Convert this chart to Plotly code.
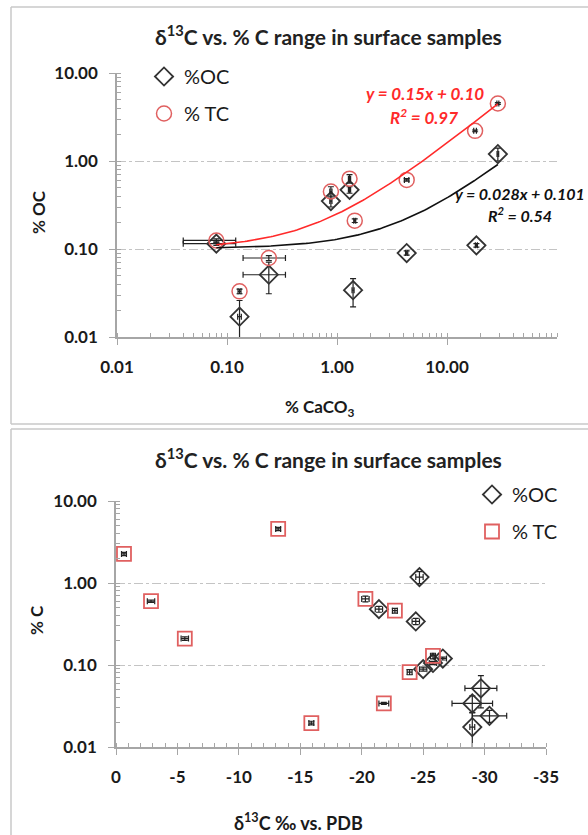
import numpy as np
import plotly.graph_objects as go

W, H = 588, 835

# ---------------- data: top panel (% CaCO3 vs % OC / % TC) ----------------
oc_x_top = [0.08, 0.13, 0.24, 0.88, 1.3, 1.4, 4.3, 18.5, 29]
oc_y_top = [0.115, 0.017, 0.051, 0.35, 0.47, 0.034, 0.090, 0.11, 1.2]
oc_xerr_top = [0.04, 0.005, 0.1, 0.02, 0.03, 0.03, 0.1, 0.4, 0.5]
oc_yerr_top = [0.005, 0.009, 0.02, 0.05, 0.04, 0.012, 0.005, 0.005, 0.2]

tc_x_top = [0.08, 0.13, 0.24, 0.88, 1.3, 1.45, 4.3, 18, 29]
tc_y_top = [0.125, 0.033, 0.079, 0.45, 0.63, 0.21, 0.61, 2.2, 4.5]
tc_xerr_top = [0.04, 0.004, 0.1, 0.02, 0.03, 0.03, 0.2, 0.5, 0.6]
tc_yerr_top = [0.005, 0.002, 0.005, 0.06, 0.07, 0.01, 0.02, 0.05, 0.1]

# trendline coefficients (as printed on the chart)
tc_slope, tc_icpt = 0.15, 0.10
oc_slope, oc_icpt = 0.028, 0.101
trend_xmin, trend_xmax = 0.08, 29

# ---------------- data: bottom panel (d13C vs % C) ----------------
oc_x_bot = [-24.7, -21.4, -24.4, -25.0, -25.8, -26.6, -29.7, -29.0, -30.4, -29.0]
oc_y_bot = [1.18, 0.48, 0.34, 0.089, 0.106, 0.12, 0.052, 0.034, 0.024, 0.0175]
oc_xerr_bot = [0.3, 0.3, 0.3, 0.3, 0.3, 0.3, 1.3, 1.65, 1.4, 0.2]
oc_yerr_bot = [0.2, 0.04, 0.03, 0.005, 0.005, 0.005, 0.022, 0.008, 0.004, 0.009]

tc_x_bot = [-0.65, -2.85, -5.6, -13.2, -20.3, -22.7, -25.8, -23.9, -21.8, -15.9]
tc_y_bot = [2.26, 0.60, 0.21, 4.56, 0.64, 0.46, 0.129, 0.082, 0.034, 0.0196]
tc_xerr_bot = [0.2, 0.3, 0.3, 0.2, 0.3, 0.2, 0.2, 0.2, 0.4, 0.2]
tc_yerr_bot = [0.1, 0.02, 0.01, 0.2, 0.05, 0.03, 0.01, 0.006, 0.001, 0.001]

log_ticks = [0.01, 0.1, 1, 10]
log_ticktext = ["0.01", "0.10", "1.00", "10.00"]
d13c_ticks = [0, -5, -10, -15, -20, -25, -30, -35]
d13c_ticktext = ["0", "-5", "-10", "-15", "-20", "-25", "-30", "-35"]

# ---------------- styling ----------------
FONT = "Lato"
RED = "#e06060"
DARK = "#333333"
AXC = "#a6a6a6"
GRID = "#c4c4c4"


def px(x):
    return x / W


def py(y):
    return 1 - y / H


fig = go.Figure()

err_style = dict(color="#222222", thickness=1.2, width=3)

# top panel traces
fig.add_trace(go.Scatter(
    x=oc_x_top, y=oc_y_top, mode="markers", name="%OC",
    marker=dict(symbol="diamond-open", size=14, color=DARK, line=dict(width=1.8, color=DARK)),
    error_x=dict(type="data", array=oc_xerr_top, visible=True, **err_style),
    error_y=dict(type="data", array=oc_yerr_top, visible=True, **err_style),
    xaxis="x", yaxis="y", legend="legend", legendgroup="a"))
fig.add_trace(go.Scatter(
    x=tc_x_top, y=tc_y_top, mode="markers", name="% TC",
    marker=dict(symbol="circle-open", size=15, color=RED, line=dict(width=1.5, color=RED)),
    error_x=dict(type="data", array=tc_xerr_top, visible=True, **err_style),
    error_y=dict(type="data", array=tc_yerr_top, visible=True, **err_style),
    xaxis="x", yaxis="y", legend="legend", legendgroup="b"))

tx = np.logspace(np.log10(trend_xmin), np.log10(trend_xmax), 120)
fig.add_trace(go.Scatter(x=tx, y=tc_slope * tx + tc_icpt, mode="lines",
                         line=dict(color="#ff2a2a", width=1.6), showlegend=False,
                         xaxis="x", yaxis="y"))
fig.add_trace(go.Scatter(x=tx, y=oc_slope * tx + oc_icpt, mode="lines",
                         line=dict(color="#111111", width=1.6), showlegend=False,
                         xaxis="x", yaxis="y"))

# bottom panel traces
fig.add_trace(go.Scatter(
    x=oc_x_bot, y=oc_y_bot, mode="markers", name="%OC",
    marker=dict(symbol="diamond-open", size=14, color=DARK, line=dict(width=1.8, color=DARK)),
    error_x=dict(type="data", array=oc_xerr_bot, visible=True, **err_style),
    error_y=dict(type="data", array=oc_yerr_bot, visible=True, **err_style),
    xaxis="x2", yaxis="y2", legend="legend2", legendgroup="c"))
fig.add_trace(go.Scatter(
    x=tc_x_bot, y=tc_y_bot, mode="markers", name="% TC",
    marker=dict(symbol="square-open", size=14, color=RED, line=dict(width=1.8, color=RED)),
    error_x=dict(type="data", array=tc_xerr_bot, visible=True, **err_style),
    error_y=dict(type="data", array=tc_yerr_bot, visible=True, **err_style),
    xaxis="x2", yaxis="y2", legend="legend2", legendgroup="d"))

tickfont = dict(family=FONT, size=17, color="#1a1a1a", weight="bold")
axis_common = dict(showline=True, linecolor=AXC, linewidth=1.5, ticks="outside",
                   ticklen=6, tickcolor=AXC, tickwidth=1.2, tickfont=tickfont,
                   zeroline=False, ticklabelstandoff=8, automargin=False)

fig.update_layout(
    width=W, height=H, autosize=False, margin=dict(l=0, r=0, t=0, b=0, pad=0),
    paper_bgcolor="white", plot_bgcolor="white",
    font=dict(family=FONT, color="#1a1a1a"),
    xaxis=dict(type="log", range=[-2, 2], domain=[px(117), px(557)], anchor="y",
               tickvals=log_ticks, ticktext=log_ticktext, showgrid=False,
               minor=dict(ticks="inside", ticklen=4, tickcolor=AXC, dtick="D1", showgrid=False),
               **axis_common),
    yaxis=dict(type="log", range=[-2, 1], domain=[py(337), py(73)], anchor="x",
               tickvals=log_ticks, ticktext=log_ticktext, showgrid=True,
               gridcolor=GRID, griddash="dashdot", gridwidth=1,
               minor=dict(ticks="inside", ticklen=4, tickcolor=AXC, dtick="D1", showgrid=False),
               **axis_common),
    xaxis2=dict(type="linear", range=[0, -35], domain=[px(116), px(546)], anchor="y2",
                tickvals=d13c_ticks, ticktext=d13c_ticktext, showgrid=False,
                minor=dict(ticks="inside", ticklen=4, tickcolor=AXC, dtick=1, showgrid=False),
                **axis_common),
    yaxis2=dict(type="log", range=[-2, 1], domain=[py(747), py(501)], anchor="x2",
                tickvals=log_ticks, ticktext=log_ticktext, showgrid=True,
                gridcolor=GRID, griddash="dashdot", gridwidth=1,
                minor=dict(ticks="inside", ticklen=4, tickcolor=AXC, dtick="D1", showgrid=False),
                **axis_common),
    legend=dict(x=px(144), y=py(57), xanchor="left", yanchor="top",
                bgcolor="white", font=dict(family=FONT, size=20, color="#1a1a1a"),
                tracegroupgap=8, itemwidth=30),
    legend2=dict(x=px(472), y=py(475), xanchor="left", yanchor="top",
                 bgcolor="white", font=dict(family=FONT, size=20, color="#1a1a1a"),
                 tracegroupgap=8, itemwidth=30),
)

# panel frames (kept inside the page)
FRAME = dict(color="#c8c8c8", width=1.5)
for (x0, y0, x1, y1) in [(11, 7, 588, 7), (11, 7, 11, 424), (11, 424, 588, 424),
                         (11, 429, 588, 429), (11, 429, 11, 835)]:
    fig.add_shape(type="line", xref="paper", yref="paper",
                  x0=px(x0), x1=px(x1), y0=py(y0), y1=py(y1), line=FRAME)

title_txt = "δ<sup>13</sup>C vs. % C range in surface samples"
ann = [
    dict(text=title_txt, x=px(328), y=py(35), font=dict(size=21, weight="bold", color="#222")),
    dict(text=title_txt, x=px(328), y=py(458), font=dict(size=21, weight="bold", color="#222")),
    dict(text="% OC", x=px(38), y=py(212), textangle=-90, font=dict(size=17, weight="bold")),
    dict(text="% C", x=px(36), y=py(620), textangle=-90, font=dict(size=17, weight="bold")),
    dict(text="% CaCO<sub>3</sub>", x=px(320), y=py(408), font=dict(size=17, weight="bold")),
    dict(text="δ<sup>13</sup>C ‰ vs. PDB", x=px(298), y=py(822), font=dict(size=18, weight="bold")),
    dict(text="y = 0.15x + 0.10", x=px(425), y=py(94),
         font=dict(size=17, weight="bold", style="italic", color="#ff2a2a")),
    dict(text="R<sup>2</sup> = 0.97", x=px(424), y=py(116),
         font=dict(size=17, weight="bold", style="italic", color="#ff2a2a")),
    dict(text="y = 0.028x + 0.101", x=px(520), y=py(193),
         font=dict(size=16, weight="bold", style="italic", color="#111")),
    dict(text="R<sup>2</sup> = 0.54", x=px(520), y=py(214),
         font=dict(size=16, weight="bold", style="italic", color="#111")),
]
for a in ann:
    f = dict(family=FONT, color="#1a1a1a")
    f.update(a.pop("font"))
    fig.add_annotation(xref="paper", yref="paper", showarrow=False,
                       xanchor="center", yanchor="middle", font=f, **a)

fig.write_html("out.html",
               config={"displayModeBar": False, "responsive": False},
               post_script="document.body.style.margin='0';document.body.style.overflow='hidden';")
